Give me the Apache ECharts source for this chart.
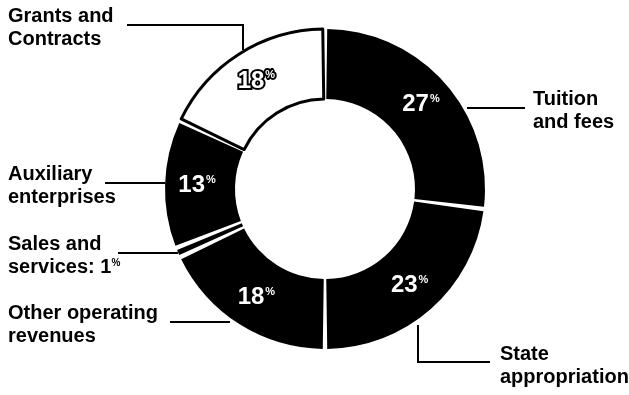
<!DOCTYPE html>
<html>
<head>
<meta charset="utf-8">
<script src="https://cdn.jsdelivr.net/npm/echarts@6/dist/echarts.min.js"></script>
<style>
html,body{margin:0;padding:0;background:#fff;}
#c{width:629px;height:395px;}
</style>
</head>
<body>
<div id="c"></div>
<script>
// Data (clockwise from 12 o'clock)
const categories = ['Tuition\nand fees', 'State\nappropriation', 'Other operating\nrevenues', 'Sales and\nservices: ', 'Auxiliary\nenterprises', 'Grants and\nContracts'];
const shares = [27, 23, 18, 1, 13, 18];
const fills = ['#000', '#000', '#000', '#000', '#000', '#fff'];

// Layout of outside labels (text box top-left) and leader lines
const labelPos = [[533, 88], [500, 343], [8, 302], [8, 233], [8, 163], [8, 5]];
const leaderPts = [
  [[467, 108], [525, 108]],
  [[418, 325], [418, 362], [490, 362]],
  [[230, 322], [170, 322]],
  [[178, 253], [118, 253]],
  [[165, 183], [105, 183]],
  [[243, 50], [243, 25], [127, 25]]
];

const FONT = '"Liberation Sans", Arial, Helvetica, sans-serif';
const chart = echarts.init(document.getElementById('c'), null, {renderer: 'canvas'});

const mainData = categories.map((c, i) => ({
  name: c,
  value: shares[i],
  itemStyle: i === 5
    ? {color: '#fff', borderColor: '#000', borderWidth: 3}
    : {color: fills[i], borderWidth: 0},
  label: i === 3 ? {show: false} : (i === 5
    ? {color: '#fff', textBorderColor: '#000', textBorderWidth: 4}
    : {})
}));

const outerData = categories.map((c, i) => ({name: c, value: shares[i]}));

chart.setOption({
  backgroundColor: '#fff',
  animation: false,
  series: [
    {
      type: 'pie',
      center: [325, 189],
      radius: [90, 160],
      startAngle: 90,
      clockwise: true,
      padAngle: 1.6,
      data: mainData,
      label: {
        show: true,
        position: 'inside',
        fontFamily: FONT,
        color: '#fff',
        formatter: p => '{n|' + p.value + '}{p|%}',
        rich: {
          n: {fontSize: 24, fontWeight: 'bold', fontFamily: FONT},
          p: {fontSize: 11, fontWeight: 'bold', fontFamily: FONT, padding: [0, 0, 11, 1]}
        }
      },
      labelLine: {show: false},
      emphasis: {disabled: true}
    },
    {
      type: 'pie',
      center: [325, 189],
      radius: [90, 160],
      startAngle: 90,
      clockwise: true,
      silent: true,
      itemStyle: {color: 'rgba(0,0,0,0)'},
      data: outerData,
      label: {
        show: true,
        position: 'outside',
        color: '#000',
        fontFamily: FONT,
        fontSize: 20,
        fontWeight: 'bold',
        lineHeight: 23,
        overflow: 'none',
        width: 200,
        formatter: p => p.dataIndex === 3 ? 'Sales and\nservices: 1{p|%}' : p.name,
        rich: {
          p: {fontSize: 10, fontWeight: 'bold', fontFamily: FONT, color: '#000', padding: [0, 0, 9, 0], lineHeight: 23}
        }
      },
      labelLine: {show: true, lineStyle: {color: '#000', width: 2}},
      labelLayout: p => ({
        x: labelPos[p.dataIndex][0],
        y: labelPos[p.dataIndex][1],
        align: 'left',
        verticalAlign: 'top',
        labelLinePoints: leaderPts[p.dataIndex]
      }),
      emphasis: {disabled: true}
    }
  ]
});
</script>
</body>
</html>
